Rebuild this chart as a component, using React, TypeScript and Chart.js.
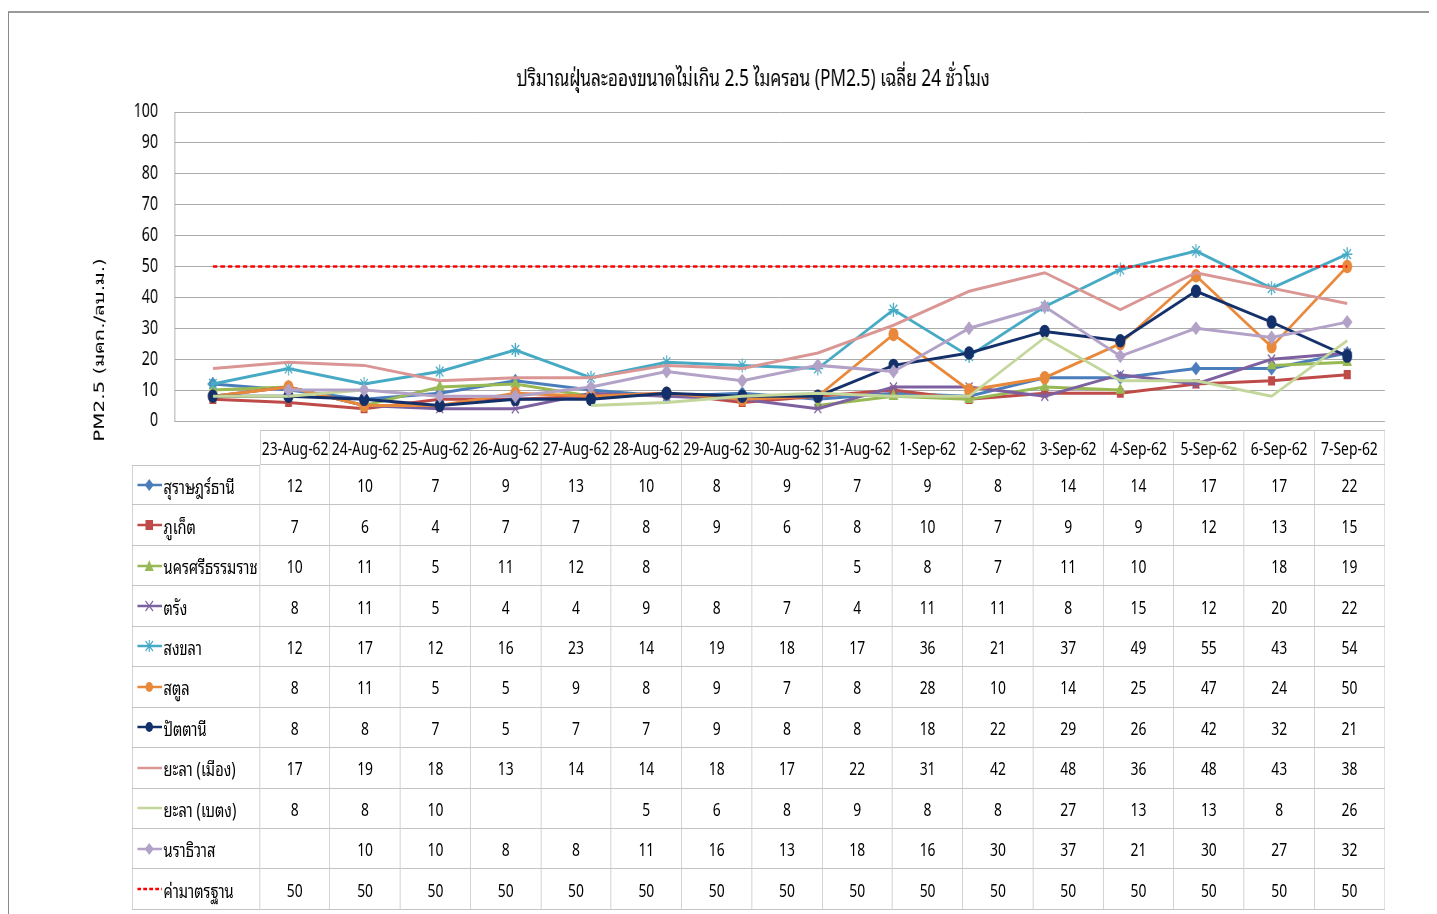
import React, { useEffect, useRef } from "react";
import { Chart, registerables } from "chart.js";

Chart.register(...registerables);

const chartTitle = "ปริมาณฝุ่นละอองขนาดไม่เกิน 2.5 ไมครอน (PM2.5) เฉลี่ย 24 ชั่วโมง";
const yAxisTitle = "PM2.5 (มคก./ลบ.ม.)";

const dates = [
  "23-Aug-62", "24-Aug-62", "25-Aug-62", "26-Aug-62", "27-Aug-62", "28-Aug-62",
  "29-Aug-62", "30-Aug-62", "31-Aug-62", "1-Sep-62", "2-Sep-62", "3-Sep-62",
  "4-Sep-62", "5-Sep-62", "6-Sep-62", "7-Sep-62",
];

const seriesNames = [
  "สุราษฎร์ธานี", "ภูเก็ต", "นครศรีธรรมราช", "ตรัง", "สงขลา", "สตูล",
  "ปัตตานี", "ยะลา (เมือง)", "ยะลา (เบตง)", "นราธิวาส", "ค่ามาตรฐาน",
];

const suratThani = [12, 10, 7, 9, 13, 10, 8, 9, 7, 9, 8, 14, 14, 17, 17, 22];
const phuket = [7, 6, 4, 7, 7, 8, 9, 6, 8, 10, 7, 9, 9, 12, 13, 15];
const nakhonSiThammarat = [10, 11, 5, 11, 12, 8, null, null, 5, 8, 7, 11, 10, null, 18, 19];
const trang = [8, 11, 5, 4, 4, 9, 8, 7, 4, 11, 11, 8, 15, 12, 20, 22];
const songkhla = [12, 17, 12, 16, 23, 14, 19, 18, 17, 36, 21, 37, 49, 55, 43, 54];
const satun = [8, 11, 5, 5, 9, 8, 9, 7, 8, 28, 10, 14, 25, 47, 24, 50];
const pattani = [8, 8, 7, 5, 7, 7, 9, 8, 8, 18, 22, 29, 26, 42, 32, 21];
const yalaMueang = [17, 19, 18, 13, 14, 14, 18, 17, 22, 31, 42, 48, 36, 48, 43, 38];
const yalaBetong = [8, 8, 10, null, null, 5, 6, 8, 9, 8, 8, 27, 13, 13, 8, 26];
const narathiwat = [null, 10, 10, 8, 8, 11, 16, 13, 18, 16, 30, 37, 21, 30, 27, 32];
const standard = [50, 50, 50, 50, 50, 50, 50, 50, 50, 50, 50, 50, 50, 50, 50, 50];

const yTicks = [0, 10, 20, 30, 40, 50, 60, 70, 80, 90, 100];

const seriesValues: (number | null)[][] = [
  suratThani, phuket, nakhonSiThammarat, trang, songkhla, satun,
  pattani, yalaMueang, yalaBetong, narathiwat, standard,
];

type Style = { color: string; point: string | false; radius: number; dash?: number[]; width: number };
const styles: Style[] = [
  { color: "#4A7EBB", point: "rectRot", radius: 6, width: 3 },
  { color: "#BE4B48", point: "rect", radius: 5.5, width: 3 },
  { color: "#98B954", point: "triangle", radius: 6, width: 3 },
  { color: "#7D60A0", point: "crossRot", radius: 6.5, width: 3 },
  { color: "#46AAC5", point: "star", radius: 7, width: 3 },
  { color: "#E8883A", point: "circle", radius: 6, width: 3 },
  { color: "#14306A", point: "circle", radius: 6, width: 3 },
  { color: "#D99694", point: false, radius: 0, width: 3 },
  { color: "#C3D69B", point: false, radius: 0, width: 3 },
  { color: "#B3A2C7", point: "rectRot", radius: 6, width: 3 },
  { color: "#FF0000", point: false, radius: 0, width: 2.5, dash: [6, 4] },
];

// horizontal squeeze of the whole picture (as in the reference)
const SQ = 0.75;
const PAGE_W = 1429;
const PAGE_H = 906;
const CANVAS_W = Math.round(PAGE_W / SQ);

const THAI = '"Noto Sans Thai Looped", "Noto Looped Thai", "Loma", "Garuda", "Tlwg Typo", "Noto Sans Thai"';
const FONT = '"Noto Sans", ' + THAI + ', sans-serif';
const YTITLE_FONT = '"DejaVu Sans", ' + THAI + ', sans-serif';

const textPlugin = {
  id: "fixedTexts",
  afterDraw(chart: any) {
    const ctx = chart.ctx;
    ctx.save();
    ctx.fillStyle = "#000";
    ctx.textAlign = "center";
    ctx.textBaseline = "middle";
    ctx.font = "23px " + FONT;
    ctx.fillText(chartTitle, 745 / SQ, 71);
    ctx.restore();
    ctx.save();
    ctx.fillStyle = "#000";
    ctx.textAlign = "center";
    ctx.textBaseline = "middle";
    ctx.translate(92 / SQ, 342);
    ctx.rotate(-Math.PI / 2);
    ctx.font = "20px " + YTITLE_FONT;
    ctx.fillText(yAxisTitle, 0, 0);
    ctx.restore();
  },
};

function Marker({ s }: { s: Style }) {
  const cx = 16, cy = 9, r = 5;
  let shape: React.ReactNode = null;
  if (s.point === "rectRot") shape = <polygon points={`${cx},${cy - r - 1} ${cx + r + 1},${cy} ${cx},${cy + r + 1} ${cx - r - 1},${cy}`} fill={s.color} />;
  else if (s.point === "rect") shape = <rect x={cx - r} y={cy - r} width={2 * r} height={2 * r} fill={s.color} />;
  else if (s.point === "triangle") shape = <polygon points={`${cx},${cy - r - 1} ${cx + r + 1},${cy + r} ${cx - r - 1},${cy + r}`} fill={s.color} />;
  else if (s.point === "crossRot") shape = <path d={`M${cx - r},${cy - r}L${cx + r},${cy + r}M${cx + r},${cy - r}L${cx - r},${cy + r}`} stroke={s.color} strokeWidth={1.5} />;
  else if (s.point === "star") shape = <path d={`M${cx - r},${cy - r}L${cx + r},${cy + r}M${cx + r},${cy - r}L${cx - r},${cy + r}M${cx},${cy - r - 1}L${cx},${cy + r + 1}`} stroke={s.color} strokeWidth={1.5} />;
  else if (s.point === "circle") shape = <circle cx={cx} cy={cy} r={r} fill={s.color} />;
  return (
    <svg width={33} height={18} style={{ flex: "none", marginRight: 2 }}>
      <line x1={0} y1={cy} x2={33} y2={cy} stroke={s.color} strokeWidth={2.5} strokeDasharray={s.dash ? "5 3" : undefined} />
      {shape}
    </svg>
  );
}

export default function App() {
  const ref = useRef<HTMLCanvasElement>(null);

  useEffect(() => {
    if (!ref.current) return;
    const chart = new Chart(ref.current, {
      type: "line",
      data: {
        labels: dates,
        datasets: seriesValues.map((vals, i) => {
          const s = styles[i];
          return {
            label: seriesNames[i],
            data: vals,
            borderColor: s.color,
            backgroundColor: s.color,
            borderWidth: s.width,
            borderDash: s.dash || [],
            pointStyle: s.point as any,
            pointRadius: s.radius,
            pointBackgroundColor: s.color,
            pointBorderColor: s.color,
            pointBorderWidth: 1.5,
            tension: 0,
            fill: false,
            spanGaps: false,
            order: seriesValues.length - i,
          };
        }),
      },
      options: {
        responsive: false,
        animation: false,
        devicePixelRatio: 1,
        layout: { padding: { left: 0, right: 52 / SQ, top: 104, bottom: PAGE_H - 413 } },
        plugins: {
          legend: { display: false },
          title: { display: false },
          tooltip: { enabled: false },
        },
        scales: {
          x: {
            type: "category",
            offset: true,
            grid: { display: false },
            ticks: { display: false },
            border: { display: false },
            afterFit: (s: any) => { s.height = 0; },
          },
          y: {
            min: 0,
            max: 100,
            afterBuildTicks: (s: any) => { s.ticks = yTicks.map((v) => ({ value: v })); },
            ticks: {
              padding: 17 / SQ,
              color: "#000",
              font: { family: FONT, size: 19 },
            },
            grid: { color: "#ababab", lineWidth: 1, drawTicks: false },
            border: { display: true, color: "#8a8a8a", width: 1 },
            afterFit: (s: any) => { s.width = 167 / SQ; },
          },
        },
      },
      plugins: [textPlugin],
    });
    return () => chart.destroy();
  }, []);

  const labelW = 128 / SQ;
  const colW = 1125 / dates.length / SQ;
  const border = "1px solid #c4c4c4";
  const cellBase: React.CSSProperties = {
    boxSizing: "border-box",
    display: "flex",
    alignItems: "center",
    justifyContent: "center",
    fontFamily: FONT,
    fontSize: 18.5,
    color: "#000",
    whiteSpace: "nowrap",
  };

  const cells: React.ReactNode[] = [];
  cells.push(<div key="h-blank" style={{ ...cellBase }} />);
  dates.forEach((d, j) => {
    cells.push(
      <div key={"h" + j} style={{ ...cellBase, borderTop: border, borderRight: border, borderBottom: border, borderLeft: j === 0 ? border : undefined }}>
        {d}
      </div>
    );
  });
  seriesNames.forEach((name, i) => {
    cells.push(
      <div key={"l" + i} style={{ ...cellBase, justifyContent: "flex-start", paddingLeft: 6, fontSize: 19.5, borderLeft: border, borderRight: border, borderBottom: border, borderTop: i === 0 ? border : undefined }}>
        <Marker s={styles[i]} />
        <span>{name}</span>
      </div>
    );
    seriesValues[i].forEach((v, j) => {
      cells.push(
        <div key={"c" + i + "-" + j} style={{ ...cellBase, borderRight: border, borderBottom: border }}>
          {v === null ? "" : String(v)}
        </div>
      );
    });
  });

  return (
    <div style={{ position: "relative", width: PAGE_W, height: PAGE_H, overflow: "hidden", background: "#fff" }}>
      <div style={{ position: "absolute", left: 0, top: 3, width: PAGE_W, height: PAGE_H - 3, borderTop: "2px solid #9a9a9a", borderLeft: "1px solid #8a8a8a", boxSizing: "border-box" }} />
      <canvas ref={ref} width={CANVAS_W} height={PAGE_H} style={{ position: "absolute", left: 0, top: 0, width: PAGE_W, height: PAGE_H }} />
      <div
        style={{
          position: "absolute",
          left: 124,
          top: 422,
          display: "grid",
          gridTemplateColumns: `${labelW}px repeat(${dates.length}, ${colW}px)`,
          gridTemplateRows: `35px repeat(${seriesNames.length}, 40.45px)`,
          transform: `scaleX(${SQ})`,
          transformOrigin: "0 0",
        }}
      >
        {cells}
      </div>
    </div>
  );
}
